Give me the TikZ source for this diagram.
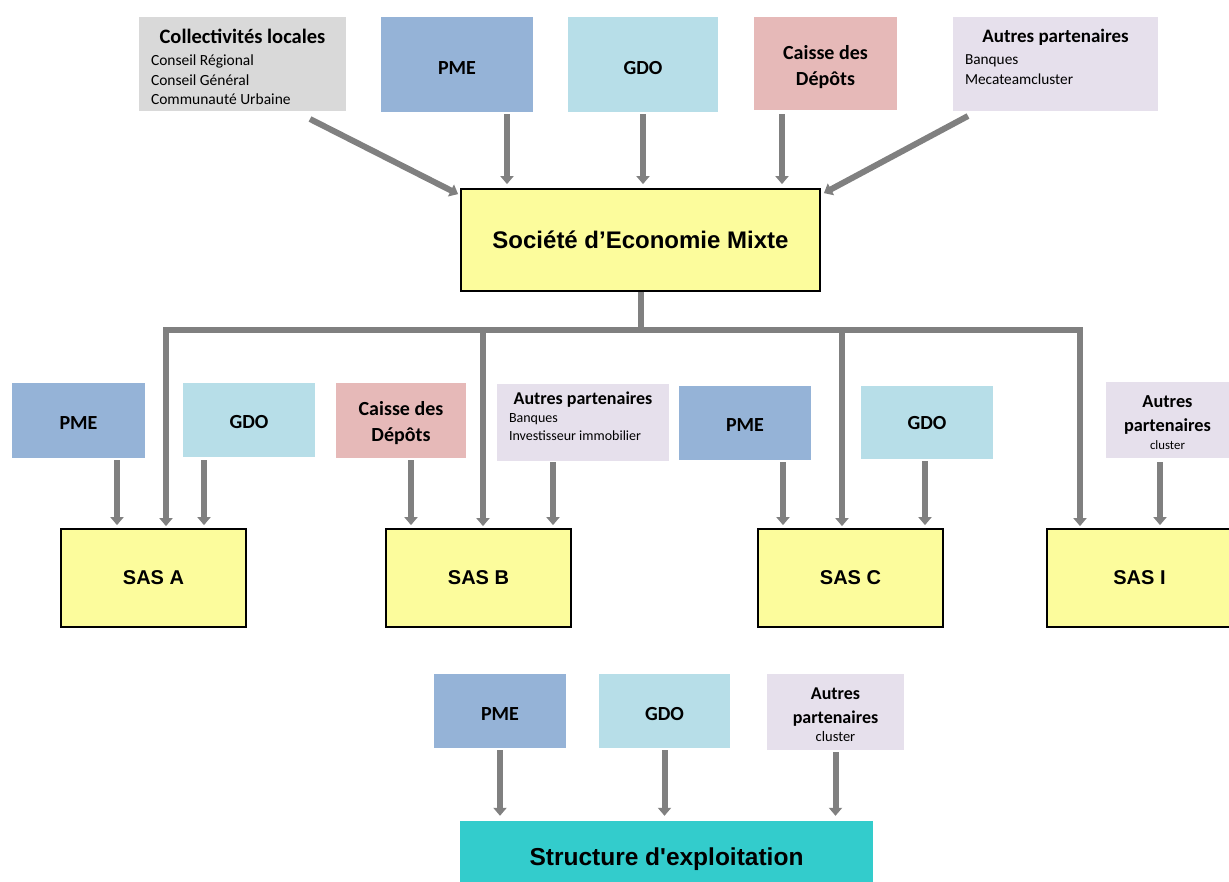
\documentclass[tikz,border=0pt]{standalone}
\usepackage{fontspec}
\setmainfont{Carlito}
\newfontfamily\arialf{Liberation Sans}
\usetikzlibrary{arrows.meta,calc}
\definecolor{greybox}{HTML}{D9D9D9}
\definecolor{pmecol}{HTML}{95B3D7}
\definecolor{gdocol}{HTML}{B7DEE8}
\definecolor{cdccol}{HTML}{E6B9B8}
\definecolor{autcol}{HTML}{E6E0EC}
\definecolor{yelcol}{HTML}{FCFC9C}
\definecolor{strcol}{HTML}{33CCCC}
\definecolor{arrgray}{HTML}{808080}
\newcommand\bxt[3][120pt]{\begin{minipage}{#1}\centering\vspace*{#2}#3\end{minipage}}
\tikzset{
  box/.style={rectangle, inner sep=0pt, outer sep=0pt, align=center,
    font=\fontsize{20}{26}\selectfont\bfseries},
  pmebox/.style={box, fill=pmecol, minimum width=#1, minimum height=75pt},
  gdobox/.style={box, fill=gdocol, minimum width=#1, minimum height=74pt},
  cdcbox/.style={box, fill=cdccol, minimum width=#1, minimum height=75pt},
  autbox/.style={box, fill=autcol, minimum width=#1, minimum height=76pt},
  yelbox/.style={rectangle, draw=black, line width=1.8pt, fill=yelcol,
    minimum width=185pt, minimum height=98pt, inner sep=0pt,
    font=\arialf\fontsize{20}{24}\selectfont\bfseries},
  conn/.style={draw=arrgray, line width=6pt},
  arr/.style={conn, -{Triangle[width=13pt,length=8pt]}},
}
\begin{document}
\begin{tikzpicture}[x=1pt,y=-1pt]
\useasboundingbox (0,0) rectangle (1229,881);
% top row
\node[box, fill=greybox, minimum width=207pt, minimum height=94pt] (coll) at (242.5,64)
  {\begin{minipage}{183pt}\vspace*{6pt}\centering\fontsize{20.5}{24}\selectfont\bfseries Collectivités locales\par
   \vspace{3pt}\raggedright\fontsize{15.5}{19.5}\selectfont\mdseries Conseil Régional\\Conseil Général\\Communauté Urbaine\end{minipage}};
\node[box, fill=pmecol, minimum width=152pt, minimum height=95pt] (pme1) at (457,64.5) {\bxt{7pt}{PME}};
\node[box, fill=gdocol, minimum width=150pt, minimum height=95pt] (gdo1) at (643,64.5) {\bxt{7pt}{GDO}};
\node[box, fill=cdccol, minimum width=143pt, minimum height=93pt] (cdc1) at (825.5,63.5) {\bxt{8pt}{Caisse des\\Dépôts}};
\node[box, fill=autcol, minimum width=205pt, minimum height=94pt] (aut1) at (1055.5,64)
  {\begin{minipage}{181pt}\vspace*{3pt}\centering\fontsize{19}{22}\selectfont\bfseries Autres partenaires\par
   \vspace{2pt}\raggedright\fontsize{15.3}{20}\selectfont\mdseries Banques\\Mecateamcluster\\[-2pt]\mbox{}\end{minipage}};
% SEM
\node[yelbox, minimum width=359pt, minimum height=102pt,
  font=\arialf\fontsize{24}{28}\selectfont\bfseries] (sem) at (640.5,240) {Société d’Economie Mixte};
% second row
\node[pmebox=133pt] (pmeA) at (78.5,420.5) {\bxt{5.5pt}{PME}};
\node[gdobox=132pt] (gdoA) at (249,420) {\bxt{5pt}{GDO}};
\node[cdcbox=130pt] (cdcB) at (401,420.5) {\bxt{6pt}{Caisse des\\Dépôts}};
\node[box, fill=autcol, minimum width=172pt, minimum height=77pt] (autB) at (583,422.5)
  {\begin{minipage}{148pt}\centering\fontsize{18}{20}\selectfont\bfseries Autres partenaires\par
   \raggedright\fontsize{14}{18}\selectfont\mdseries Banques\\Investisseur immobilier\\[-6pt]\mbox{}\end{minipage}};
\node[pmebox=132pt, minimum height=74pt] (pmeC) at (745,423) {\bxt{3.5pt}{PME}};
\node[gdobox=132pt, minimum height=73pt] (gdoC) at (927,422.5) {\bxt{1.5pt}{GDO}};
\node[autbox=123pt] (autI) at (1167.5,420)
  {\bxt[120pt]{5pt}{\fontsize{18.3}{24}\selectfont Autres\\partenaires\par
   \fontsize{12.8}{18}\selectfont\mdseries cluster}};
% SAS
\node[yelbox] (sasA) at (153.5,578) {SAS A};
\node[yelbox] (sasB) at (478.5,578) {SAS B};
\node[yelbox] (sasC) at (850.5,578) {SAS C};
\node[yelbox] (sasI) at (1139.5,578) {SAS I};
% bottom row
\node[pmebox=132pt, minimum height=74pt] (pmeS) at (500,711) {\bxt{6.5pt}{PME}};
\node[gdobox=131pt] (gdoS) at (664.5,711) {\bxt{6.5pt}{GDO}};
\node[autbox=137pt] (autS) at (835.5,712)
  {\bxt[130pt]{5pt}{\fontsize{18}{24}\selectfont Autres\\partenaires\par
   \fontsize{14.5}{18}\selectfont\mdseries cluster}};
\node[rectangle, fill=strcol, minimum width=413pt, minimum height=76pt, inner sep=0pt,
  font=\arialf\fontsize{24.5}{28}\selectfont\bfseries] (str) at (666.5,859) {Structure d'exploitation};
% top arrows
\draw[arr] ($(coll.south east)+(-36,8)$) -- ($(sem.north west)+(-2,6)$);
\draw[arr, shorten >=4pt] ($(pme1.south)+(50,2)$) coordinate (s1) -- (s1 |- sem.north);
\draw[arr, shorten >=4pt] ($(gdo1.south)+(0,2)$) coordinate (s2) -- (s2 |- sem.north);
\draw[arr, shorten >=4pt] ($(cdc1.south)+(-43.5,4)$) coordinate (s3) -- (s3 |- sem.north);
\draw[arr] ($(aut1.south west)+(15,5)$) -- ($(sem.north east)+(3,5)$);
% bus
\coordinate (bus) at (640.5,330);
\draw[conn] (sem.south) -- (bus);
\draw[arr, shorten >=2pt] (bus) -| ($(sasA.north)+(12.5,0)$);
\draw[arr, shorten >=2pt] (bus) -| ($(sasB.north)+(4.5,0)$);
\draw[arr, shorten >=2pt] (bus) -| ($(sasC.north)+(-8.5,0)$);
\draw[arr, shorten >=2pt] (bus) -| ($(sasI.north)+(-59.5,0)$);
% second row arrows
\draw[arr, shorten >=3pt] ($(pmeA.south)+(38.5,2)$) coordinate (t1) -- (t1 |- sasA.north);
\draw[arr, shorten >=3pt] ($(gdoA.south)+(-45,3)$) coordinate (t2) -- (t2 |- sasA.north);
\draw[arr, shorten >=3pt] ($(cdcB.south)+(10,2)$) coordinate (t3) -- (t3 |- sasB.north);
\draw[arr, shorten >=3pt] ($(autB.south)+(-30,1)$) coordinate (t4) -- (t4 |- sasB.north);
\draw[arr, shorten >=3pt] ($(pmeC.south)+(38,2)$) coordinate (t5) -- (t5 |- sasC.north);
\draw[arr, shorten >=3pt] ($(gdoC.south)+(-2,2)$) coordinate (t6) -- (t6 |- sasC.north);
\draw[arr, shorten >=3pt] ($(autI.south)+(-7.5,4)$) coordinate (t7) -- (t7 |- sasI.north);
% bottom arrows
\draw[arr, shorten >=5pt] ($(pmeS.south)+(0,2)$) coordinate (u1) -- (u1 |- str.north);
\draw[arr, shorten >=5pt] ($(gdoS.south)+(0,2)$) coordinate (u2) -- (u2 |- str.north);
\draw[arr, shorten >=5pt] ($(autS.south)+(0,2)$) coordinate (u3) -- (u3 |- str.north);
\end{tikzpicture}
\end{document}
